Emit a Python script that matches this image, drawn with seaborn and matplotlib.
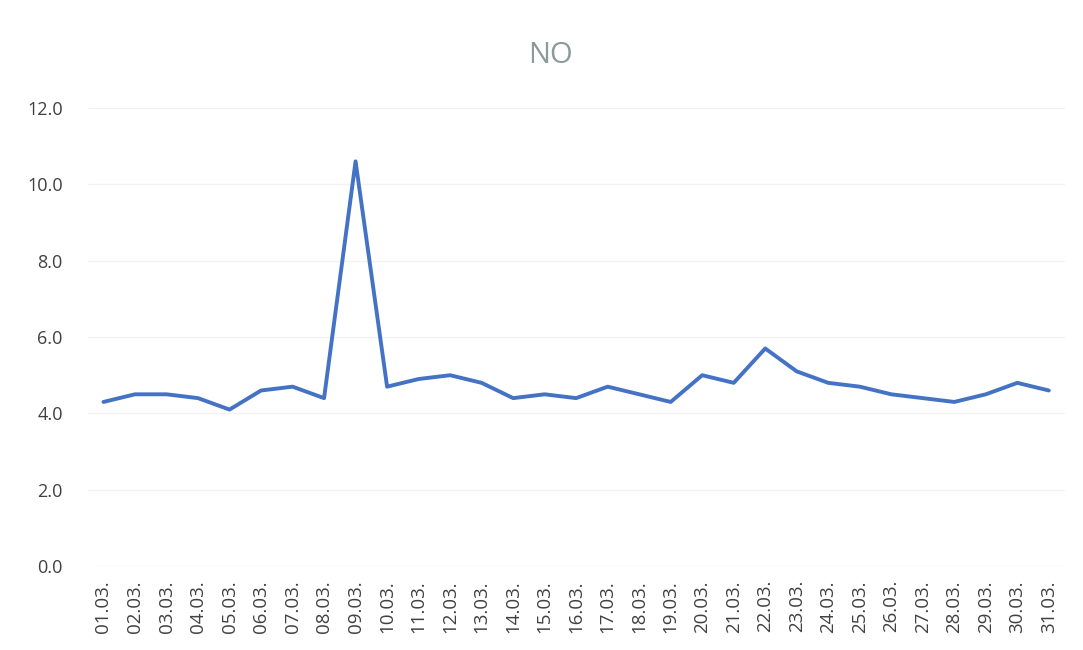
import matplotlib
matplotlib.use("Agg")
import matplotlib.pyplot as plt
import seaborn as sns
import pandas as pd

days = [f"{d:02d}.03." for d in range(1, 32)]
no_values = [4.3, 4.5, 4.5, 4.4, 4.1, 4.6, 4.7, 4.4, 10.6, 4.7,
             4.9, 5.0, 4.8, 4.4, 4.5, 4.4, 4.7, 4.5, 4.3, 5.0,
             4.8, 5.7, 5.1, 4.8, 4.7, 4.5, 4.4, 4.3, 4.5, 4.8, 4.6]
y_ticks = [0, 2, 4, 6, 8, 10, 12]

sns.set_theme(style="white")
plt.rcParams['font.family'] = ['Open Sans', 'DejaVu Sans']

df = pd.DataFrame({"day": days, "NO": no_values})
df["pos"] = range(len(days))

fig = plt.figure(figsize=(10.83, 6.5), dpi=100)
ax = fig.add_axes([0.081, 0.129, 0.902, 0.705])
sns.lineplot(data=df, x="pos", y="NO", ax=ax, color="#4472C4", linewidth=2.8)

ax.set_xlim(-0.5, len(days) - 0.5)
ax.set_ylim(0, 12)
ax.set_yticks(y_ticks)
ax.set_yticklabels([f"{v:.1f}" for v in y_ticks], fontsize=13, color="#404040")
ax.set_xticks(df["pos"])
ax.set_xticklabels(days, rotation=90, fontsize=13.5, color="#404040")
ax.tick_params(axis="x", length=0, pad=10)
ax.tick_params(axis="y", length=0, pad=18)
ax.yaxis.grid(True, color="#f2f2f2", linewidth=1)
ax.set_axisbelow(True)
for s in ax.spines.values():
    s.set_visible(False)
ax.set_xlabel("")
ax.set_ylabel("")
fig.text(0.508, 0.915, "NO", ha="center", va="center", fontsize=21, color="#8c9a9a")

fig.savefig("out.png", dpi=100)
